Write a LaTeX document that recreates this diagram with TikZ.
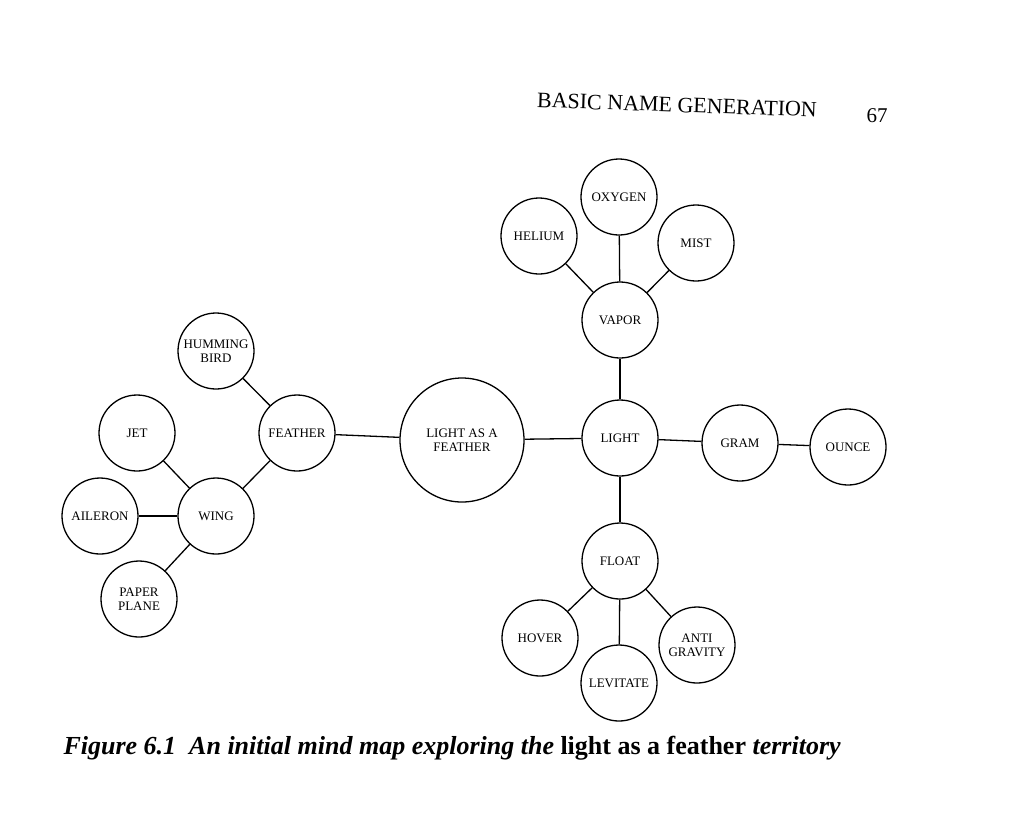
\documentclass[tikz,border=0pt]{standalone}
\usepackage{fontspec}
\setmainfont{Liberation Serif}
\begin{document}
\begin{tikzpicture}[x=1pt,y=-1pt,
 c/.style={circle,draw,line width=1.3pt,minimum size=76pt,inner sep=0pt,align=center,font=\fontsize{13}{14}\selectfont},
 big/.style={c,minimum size=124pt},
 l/.style={line width=1.3pt}]
\useasboundingbox (0,0) rectangle (1024,823);
\node[big] (laf) at (462,440) {LIGHT AS A\\FEATHER};
\node[c] (light) at (620,438) {LIGHT};
\node[c] (gram) at (740,443) {GRAM};
\node[c] (ounce) at (848,447) {OUNCE};
\node[c] (vapor) at (620,320) {VAPOR};
\node[c] (helium) at (539,236) {HELIUM};
\node[c] (oxygen) at (619,197) {OXYGEN};
\node[c] (mist) at (696,243) {MIST};
\node[c] (float) at (620,561) {FLOAT};
\node[c] (hover) at (540,638) {HOVER};
\node[c] (lev) at (619,683) {LEVITATE};
\node[c] (anti) at (697,645) {ANTI\\GRAVITY};
\node[c] (feather) at (297,433) {FEATHER};
\node[c] (hum) at (216,351) {HUMMING\\BIRD};
\node[c] (wing) at (216,516) {WING};
\node[c] (jet) at (137,433) {JET};
\node[c] (ail) at (100,516) {AILERON};
\node[c] (paper) at (139,599) {PAPER\\PLANE};
\foreach \a/\b in {laf/light,light/gram,gram/ounce,light/vapor,vapor/helium,vapor/oxygen,vapor/mist,light/float,float/hover,float/lev,float/anti,laf/feather,feather/hum,feather/wing,wing/jet,wing/ail,wing/paper}
  \draw[l] (\a) -- (\b);
\node[font=\fontsize{22}{24}\selectfont,rotate=-2] (hdr) at (677,105) {BASIC NAME GENERATION};
\node[font=\fontsize{21}{22}\selectfont] (pg) at (877,116) {67};
\node[font=\fontsize{26}{28}\selectfont\bfseries,anchor=west] (cap) at (60,748) {\itshape Figure 6.1 \ An initial mind map exploring the \upshape light as a feather \itshape territory};
\end{tikzpicture}
\end{document}
